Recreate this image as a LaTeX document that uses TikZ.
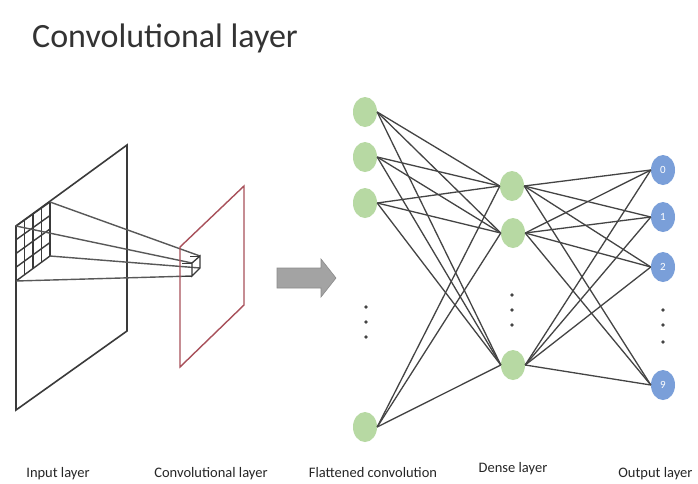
\documentclass[tikz,border=0pt]{standalone}
\usepackage{fontspec}
\setmainfont{Carlito}
\usetikzlibrary{shapes.geometric,calc}
\definecolor{nodegreen}{HTML}{B7D9A3}
\definecolor{nodeblue}{HTML}{7A9FD9}
\definecolor{edgegray}{HTML}{444444}
\definecolor{planegray}{HTML}{3A3A3A}
\definecolor{planered}{HTML}{A8505A}
\definecolor{arrowgray}{HTML}{A3A3A3}
\tikzset{
  flatnode/.style={ellipse,fill=nodegreen,minimum width=24pt,minimum height=30pt,inner sep=0pt},
  densenode/.style={ellipse,fill=nodegreen,minimum width=24pt,minimum height=30pt,inner sep=0pt},
  outnode/.style={ellipse,fill=nodeblue,minimum width=24pt,minimum height=30pt,inner sep=0pt,text=white,font=\fontsize{11}{11}\selectfont},
  conn/.style={draw=edgegray,line width=1.3pt},
  ddot/.style={circle,fill=edgegray,minimum size=3.6pt,inner sep=0pt},
  lbl/.style={anchor=base,font=\fontsize{14.5}{15}\selectfont,text=black!85},
  planeline/.style={draw=planegray,line width=1.6pt},
  projline/.style={draw=planegray!85,line width=1.4pt},
}
\begin{document}
\begin{tikzpicture}[x=1pt,y=-1pt]
\useasboundingbox[fill=white] (0,0) rectangle (698,483);

% title
\node[anchor=base west,inner sep=0pt,font=\fontsize{34}{34}\selectfont,text=black!80] (title) at (32,47) {Convolutional layer};

% input plane
\coordinate (ia) at (16,226);
\coordinate (ib) at (127,145);
\coordinate (ic) at (127,331);
\coordinate (id) at (16,410);
\draw[planeline] (ia) -- (ib) -- (ic) -- (id) -- cycle;

% grid corners
\coordinate (gtl) at (16,226);
\coordinate (gtr) at (50,202);
\coordinate (gbr) at (50,256);
\coordinate (gbl) at (16,281);
\foreach \i in {0,1,2,3,4}{
  \draw[planeline,line width=1.4pt] ($(gtl)!\i/4!(gtr)$) -- ($(gbl)!\i/4!(gbr)$);
  \draw[planeline,line width=1.4pt] ($(gtl)!\i/4!(gbl)$) -- ($(gtr)!\i/4!(gbr)$);
}

% small cube front face
\coordinate (ctl) at (192,263);
\coordinate (ctr) at (200,256);
\coordinate (cbr) at (200,268);
\coordinate (cbl) at (192,276);

% projection lines
\draw[projline] (gtr) -- (ctr);
\draw[projline] (gtl) -- (ctl);
\draw[projline] (gbr) -- (cbr);
\draw[projline] (gbl) -- (cbl);

% conv plane
\coordinate (ra) at (180,247);
\coordinate (rb) at (244,186);
\coordinate (rc) at (244,305);
\coordinate (rd) at (180,367);
\draw[draw=planered,line width=1.4pt] (ra) -- (rb) -- (rc) -- (rd) -- cycle;

% cube
\draw[planeline,line width=1.3pt] (ctl) -- (ctr) -- (cbr) -- (cbl) -- cycle;
\draw[planeline,line width=1pt] (ctl) -- ++(-10,0) (cbl) -- ++(-10,0) (ctr) -- ++(-10,0);

% big arrow
\draw[draw=arrowgray!85!black,fill=arrowgray,line width=0.6pt]
  (277,268) -- (321,268) -- (321,259) -- (336,278) -- (321,297) -- (321,288) -- (277,288) -- cycle;

% flattened nodes
\node[flatnode] (f1) at (365,112) {};
\node[flatnode] (f2) at (365,157) {};
\node[flatnode] (f3) at (365,203) {};
\node[flatnode] (f4) at (365,427) {};
\node[ddot] (fd1) at (366,307) {};
\node[ddot] (fd2) at (366,322) {};
\node[ddot] (fd3) at (366,337) {};

% dense nodes
\node[densenode] (d1) at (512,186) {};
\node[densenode] (d2) at (513,233) {};
\node[densenode] (d3) at (513,365) {};
\node[ddot] (dd1) at (512,295) {};
\node[ddot] (dd2) at (512,310) {};
\node[ddot] (dd3) at (512,325) {};

% output nodes
\node[outnode] (o0) at (663,170) {0};
\node[outnode] (o1) at (663,217) {1};
\node[outnode] (o2) at (663,267) {2};
\node[outnode] (o9) at (663,385) {9};
\node[ddot] (od1) at (663,310) {};
\node[ddot] (od2) at (663,325) {};
\node[ddot] (od3) at (663,342) {};

% connections
\foreach \f in {f1,f2,f3,f4}{
  \foreach \d in {d1,d2,d3}{
    \draw[conn] (\f.east) -- (\d.west);
  }
}
\foreach \d in {d1,d2,d3}{
  \foreach \o in {o0,o1,o2,o9}{
    \draw[conn] (\d.east) -- (\o.west);
  }
}

% labels
\node[lbl] (l1) at (58,477) {Input layer};
\node[lbl] (l2) at (211,477) {Convolutional layer};
\node[lbl] (l3) at (373,477) {Flattened convolution};
\node[lbl] (l4) at (513,472) {Dense layer};
\node[lbl,anchor=base east] (l5) at (696,477) {Output layer};
\end{tikzpicture}
\end{document}
